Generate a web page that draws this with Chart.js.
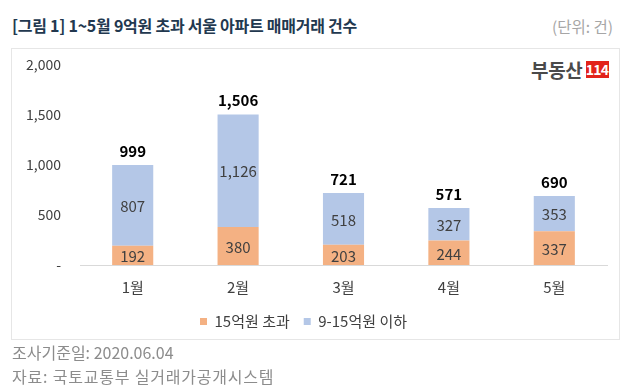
<!DOCTYPE html>
<html>
<head>
<meta charset="utf-8">
<script src="https://cdn.jsdelivr.net/npm/chart.js@4"></script>
<style>
  body { margin: 0; background: #fff; font-family: "Noto Sans CJK KR", "Noto Sans", sans-serif; }
  #wrap { position: relative; width: 630px; height: 392px; overflow: hidden; }
  #title { position: absolute; left: 12px; top: 13px; font-size: 16px; font-weight: bold; color: #22384f; letter-spacing: -0.25px; }
  #unit { position: absolute; right: 17px; top: 15px; font-size: 15.5px; color: #a6a6a6; letter-spacing: 0px; }
  #box { position: absolute; left: 11px; top: 48px; width: 607px; height: 290px; border: 1px solid #e6e6e6; }
  #logo { position: absolute; left: 531px; top: 55px; height: 20px; white-space: nowrap; }
  #logo .txt { font-size: 19px; font-weight: bold; color: #4a4a4a; letter-spacing: -0.3px; vertical-align: middle; }
  #logo .num { display: inline-block; background: #e2231a; color: #fff; font-size: 14px; font-weight: bold; width: 23px; text-align: center; line-height: 17px; vertical-align: middle; letter-spacing: -0.8px; margin-left: 3px; }
  .foot { position: absolute; left: 12px; font-size: 16px; color: #8c8c8c; }
  canvas { position: absolute; left: 0; top: 0; }
</style>
</head>
<body>
<div id="wrap">
  <div id="title">[그림 1] 1~5월 9억원 초과 서울 아파트 매매거래 건수</div>
  <div id="unit">(단위: 건)</div>
  <div id="box"></div>
  <div id="logo"><span class="txt">부동산</span><span class="num">114</span></div>
  <canvas id="chart" width="630" height="392"></canvas>
  <div class="foot" style="top:340px">조사기준일: 2020.06.04</div>
  <div class="foot" style="top:364px; letter-spacing: 0.8px">자료: 국토교통부 실거래가공개시스템</div>
</div>
<script>
// chart data
var months = ["1월", "2월", "3월", "4월", "5월"];
var over15 = [192, 380, 203, 244, 337];
var from9to15 = [807, 1126, 518, 327, 353];
var yTicks = [0, 500, 1000, 1500, 2000];

var fontFamily = '"Noto Sans CJK KR", "Noto Sans", sans-serif';

function fmt(n) {
  return n.toLocaleString("en-US");
}

// draws values inside bars and totals above the stack
var labelPlugin = {
  id: "barLabels",
  afterDatasetsDraw: function(chart) {
    var ctx = chart.ctx;
    ctx.save();
    ctx.textAlign = "center";
    ctx.textBaseline = "middle";
    ctx.font = "15px " + fontFamily;
    ctx.fillStyle = "#404040";
    chart.data.datasets.forEach(function(ds, i) {
      var meta = chart.getDatasetMeta(i);
      meta.data.forEach(function(bar, j) {
        ctx.fillText(fmt(ds.data[j]), bar.x, (bar.y + bar.base) / 2 + 1);
      });
    });
    var top = chart.getDatasetMeta(chart.data.datasets.length - 1);
    ctx.font = "bold 15px " + fontFamily;
    ctx.fillStyle = "#000";
    top.data.forEach(function(bar, j) {
      var total = over15[j] + from9to15[j];
      ctx.fillText(fmt(total), bar.x, bar.y - 14);
    });
    ctx.restore();
  }
};

var ctx = document.getElementById("chart").getContext("2d");
var chart = new Chart(ctx, {
  type: "bar",
  data: {
    labels: months,
    datasets: [
      {
        label: "15억원 초과",
        data: over15,
        backgroundColor: "#f4b183",
        barPercentage: 0.39,
        categoryPercentage: 1
      },
      {
        label: "9-15억원 이하",
        data: from9to15,
        backgroundColor: "#b4c7e7",
        barPercentage: 0.39,
        categoryPercentage: 1
      }
    ]
  },
  options: {
    responsive: false,
    animation: false,
    layout: { padding: { left: 0, top: 65, right: 23, bottom: 53 } },
    plugins: {
      legend: {
        position: "bottom",
        labels: {
          boxWidth: 7,
          boxHeight: 7,
          padding: 14,
          color: "#404040",
          font: { family: fontFamily, size: 15 }
        }
      },
      tooltip: { enabled: false }
    },
    scales: {
      x: {
        stacked: true,
        grid: { display: false, drawTicks: false },
        border: { display: true, color: "#d9d9d9" },
        ticks: { color: "#404040", padding: 13, font: { family: fontFamily, size: 15 } },
        afterFit: function(s) { s.height = 35; }
      },
      y: {
        stacked: true,
        min: 0,
        max: 2000,
        grid: { display: false, drawTicks: false },
        border: { display: false },
        afterBuildTicks: function(s) {
          s.ticks = yTicks.map(function(v) { return { value: v }; });
        },
        ticks: {
          color: "#404040",
          padding: 19,
          font: { family: fontFamily, size: 14 },
          callback: function(v) { return v === 0 ? "-" : fmt(v); }
        },
        afterFit: function(s) { s.width = 80; }
      }
    }
  },
  plugins: [labelPlugin]
});
</script>
</body>
</html>
